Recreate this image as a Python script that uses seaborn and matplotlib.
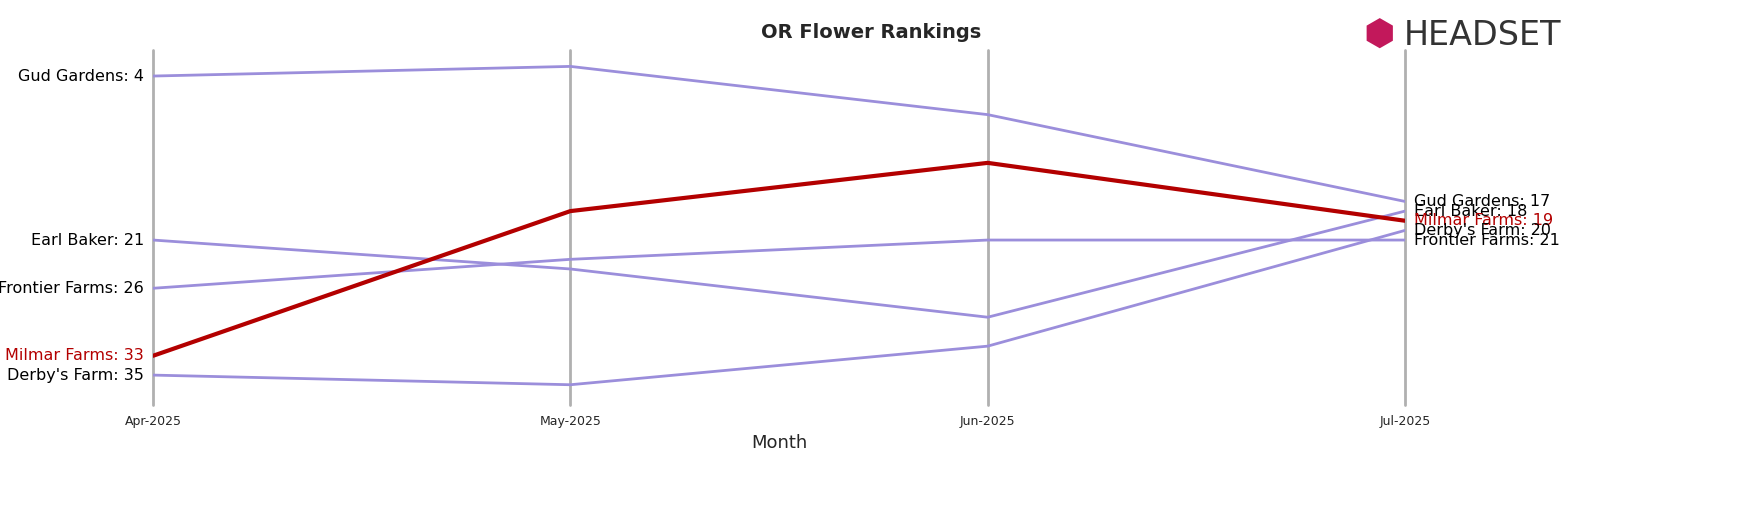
import matplotlib
matplotlib.use("Agg")
import matplotlib.pyplot as plt
import seaborn as sns
import pandas as pd

months = ["Apr-2025", "May-2025", "Jun-2025", "Jul-2025"]
brands = ["Gud Gardens", "Earl Baker", "Frontier Farms", "Milmar Farms", "Derby's Farm"]
gud = [4, 3, 8, 17]
earl = [21, 24, 29, 18]
frontier = [26, 23, 21, 21]
milmar = [33, 18, 13, 19]
derby = [35, 36, 32, 20]
ranks = [gud, earl, frontier, milmar, derby]
highlight = "Milmar Farms"

rows = []
for b, r in zip(brands, ranks):
    for i, v in enumerate(r):
        rows.append({"brand": b, "x": i, "rank": v})
df = pd.DataFrame(rows)

sns.set_style("white")
fig = plt.figure(figsize=(17.53, 5.07), dpi=100)
ax = fig.add_axes([153/1753, 1-405/507, (1405-153)/1753, 355/507])
palette = {b: ("#b30000" if b == highlight else "#9b8edb") for b in brands}
for b in brands:
    sub = df[df.brand == b]
    sns.lineplot(data=sub, x="x", y="rank", color=palette[b],
                 linewidth=3 if b == highlight else 2, ax=ax, legend=False,
                 zorder=3 if b == highlight else 2)
for i in range(len(months)):
    ax.axvline(i, color="#b0b0b0", linewidth=2, zorder=1, clip_on=False)
ax.set_ylim(38.1, 1.3)
ax.set_xlim(0, 3)
ax.set_xticks(range(len(months)))
ax.set_xticklabels(months, fontsize=9)
ax.set_yticks([])
ax.set_ylabel("")
ax.set_xlabel("Month", fontsize=13)
for s in ax.spines.values():
    s.set_visible(False)
ax.tick_params(axis="x", length=4, color="#b0b0b0")
for b, r in zip(brands, ranks):
    c = "#b30000" if b == highlight else "black"
    ax.text(-0.022, r[0], f"{b}: {r[0]}", ha="right", va="center", fontsize=11.5, color=c)
    ax.text(3.022, r[-1], f"{b}: {r[-1]}", ha="left", va="center", fontsize=11.5, color=c)
fig.text(0.497, 0.935, "OR Flower Rankings", ha="center", va="center", fontsize=14, fontweight="bold")
fig.text(0.778, 0.93, "⬢", ha="left", va="center", fontsize=26, color="#c2185b")
fig.text(0.801, 0.93, "HEADSET", ha="left", va="center", fontsize=24, color="#333333")
fig.savefig("out.png", dpi=100)
